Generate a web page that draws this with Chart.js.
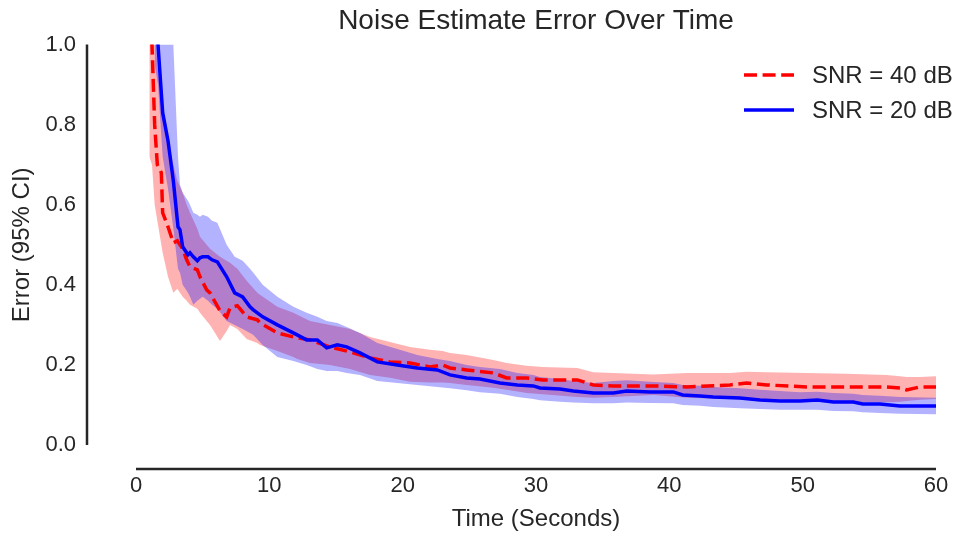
<!DOCTYPE html>
<html>
<head>
<meta charset="utf-8">
<script src="https://cdn.jsdelivr.net/npm/chart.js@4.4.1/dist/chart.umd.min.js"></script>
<style>
  html, body { margin: 0; padding: 0; background: #fff; }
  #wrap { width: 953px; height: 536px; }
</style>
</head>
<body>
<div id="wrap"><canvas id="noiseChart" width="953" height="536"></canvas></div>
<script>
// SNR = 40 dB (red, dashed)
var redTime = [1.0, 1.2, 1.4, 1.6, 1.9, 2.0, 2.4, 2.8, 3.1, 3.5, 3.8, 4.05, 4.6, 4.8, 5.3, 5.55, 6.3, 6.8, 7.05, 7.6,
    8.3, 9.1, 9.3, 10.6, 11.8, 12.1, 13.05, 14.55, 16.05, 17.55, 19.05, 20.55, 22.05, 23.0, 23.55, 24.8, 26.8, 27.8, 29.3, 30.5,
    33.1, 34.3, 35.8, 38.8, 41.3, 44.55, 45.8, 47.3, 50.3, 53.3, 56.3, 57.3, 57.8, 58.8, 60];
var redMean = [1.1, 1.0, 0.80, 0.70, 0.68, 0.58, 0.545, 0.505, 0.51, 0.49, 0.4625, 0.445, 0.4375, 0.42, 0.3875, 0.38, 0.335, 0.32, 0.3425, 0.348,
    0.32, 0.3125, 0.305, 0.28, 0.27, 0.268, 0.2625, 0.245, 0.2325, 0.2175, 0.2075, 0.205, 0.195, 0.20, 0.1925, 0.1875, 0.18, 0.1675, 0.1675, 0.1625,
    0.1625, 0.15, 0.1475, 0.1475, 0.145, 0.15, 0.155, 0.15, 0.145, 0.145, 0.145, 0.1425, 0.1375, 0.145, 0.145];
var redLow = [0.72, 0.70, 0.60, 0.56, 0.50, 0.48, 0.42, 0.38, 0.39, 0.37, 0.36, 0.35, 0.34, 0.33, 0.31, 0.30, 0.26, 0.285, 0.30, 0.29,
    0.265, 0.255, 0.25, 0.235, 0.22, 0.215, 0.205, 0.20, 0.19, 0.175, 0.168, 0.158, 0.156, 0.156, 0.155, 0.15, 0.143, 0.138, 0.13, 0.127,
    0.12, 0.118, 0.12, 0.125, 0.118, 0.115, 0.113, 0.112, 0.108, 0.107, 0.107, 0.108, 0.11, 0.113, 0.115];
var redHigh = [1.25, 1.2, 1.05, 0.95, 0.85, 0.82, 0.76, 0.70, 0.66, 0.63, 0.60, 0.58, 0.54, 0.52, 0.50, 0.49, 0.47, 0.46, 0.455, 0.44,
    0.41, 0.38, 0.375, 0.345, 0.33, 0.325, 0.31, 0.30, 0.29, 0.27, 0.2575, 0.245, 0.238, 0.235, 0.23, 0.225, 0.212, 0.205, 0.198, 0.195,
    0.192, 0.182, 0.18, 0.176, 0.18, 0.18, 0.183, 0.182, 0.18, 0.178, 0.175, 0.172, 0.17, 0.17, 0.172];

// SNR = 20 dB (blue, solid)
var blueTime = [1.4, 1.65, 2.0, 2.4, 2.8, 3.15, 3.3, 3.5, 3.9, 4.05, 4.3, 4.6, 4.8, 5.0, 5.4, 5.7, 6.1, 6.8, 7.4, 8.0,
    8.55, 8.8, 9.5, 10.6, 11.8, 12.8, 13.6, 14.3, 15.1, 15.8, 16.8, 18.1, 19.6, 21.1, 22.6, 23.55, 24.8, 25.8, 27.3, 28.6,
    29.8, 30.3, 31.8, 32.8, 34.3, 35.8, 36.8, 38.55, 40.3, 41.0, 42.3, 43.3, 45.3, 46.8, 48.3, 49.8, 51.1, 52.3, 53.8, 54.5,
    55.8, 57.3, 60];
var blueMean = [1.15, 1.0, 0.83, 0.76, 0.66, 0.545, 0.5375, 0.495, 0.475, 0.48, 0.47, 0.46, 0.4675, 0.47, 0.47, 0.4625, 0.4575, 0.42, 0.38, 0.37,
    0.345, 0.3375, 0.32, 0.30, 0.28, 0.2625, 0.2625, 0.2425, 0.25, 0.245, 0.23, 0.2075, 0.20, 0.1925, 0.1875, 0.175, 0.1675, 0.165, 0.155, 0.15,
    0.1475, 0.1425, 0.14, 0.135, 0.13, 0.13, 0.135, 0.1325, 0.1325, 0.125, 0.1225, 0.12, 0.1175, 0.1125, 0.11, 0.11, 0.1125, 0.1075, 0.1075, 0.1025,
    0.1025, 0.0975, 0.0975];
var blueLow = [0.95, 0.90, 0.72, 0.64, 0.54, 0.44, 0.43, 0.40, 0.38, 0.37, 0.35, 0.36, 0.365, 0.37, 0.36, 0.35, 0.34, 0.31, 0.30, 0.29,
    0.28, 0.275, 0.25, 0.22, 0.21, 0.20, 0.19, 0.185, 0.185, 0.18, 0.175, 0.16, 0.155, 0.15, 0.145, 0.142, 0.137, 0.132, 0.128, 0.12,
    0.115, 0.112, 0.108, 0.106, 0.104, 0.104, 0.106, 0.105, 0.104, 0.10, 0.098, 0.095, 0.092, 0.09, 0.088, 0.088, 0.088, 0.085, 0.084, 0.082,
    0.08, 0.078, 0.077];
var blueHigh = [1.3, 1.25, 1.15, 1.08, 1.0, 0.72, 0.65, 0.63, 0.61, 0.60, 0.58, 0.575, 0.57, 0.575, 0.57, 0.56, 0.555, 0.50, 0.47, 0.46,
    0.44, 0.43, 0.40, 0.37, 0.345, 0.33, 0.32, 0.31, 0.305, 0.295, 0.28, 0.255, 0.24, 0.225, 0.215, 0.21, 0.20, 0.195, 0.19, 0.18,
    0.175, 0.17, 0.165, 0.16, 0.155, 0.16, 0.162, 0.158, 0.155, 0.15, 0.148, 0.145, 0.142, 0.138, 0.135, 0.132, 0.133, 0.13, 0.128, 0.125,
    0.123, 0.12, 0.118];

var seriesLabels = ["SNR = 40 dB", "SNR = 20 dB"];
var xTicks = [0, 10, 20, 30, 40, 50, 60];
var yTicks = [0.0, 0.2, 0.4, 0.6, 0.8, 1.0];

var FONT = "'Liberation Sans', Arial, sans-serif";
var TEXT = "#262626";
var DASH = [13, 5.6];

function pts(xs, ys) {
    return xs.map(function (x, i) { return { x: x, y: ys[i] }; });
}

// seaborn-ish offset spines + legend drawn on top
var decorPlugin = {
    id: "decor",
    afterDraw: function (chart) {
        var ctx = chart.ctx;
        var xs = chart.scales.x, ys = chart.scales.y;
        ctx.save();
        ctx.strokeStyle = TEXT;
        ctx.lineWidth = 2.5;
        ctx.setLineDash([]);
        ctx.beginPath();
        ctx.moveTo(87, ys.getPixelForValue(1.0));
        ctx.lineTo(87, ys.getPixelForValue(0.0));
        ctx.moveTo(xs.getPixelForValue(0), 469);
        ctx.lineTo(xs.getPixelForValue(60), 469);
        ctx.stroke();

        // legend
        var items = [
            { label: seriesLabels[0], color: "#ff0000", dash: DASH, y: 75 },
            { label: seriesLabels[1], color: "#0000ff", dash: [], y: 110 }
        ];
        ctx.font = "24px " + FONT;
        ctx.textBaseline = "middle";
        ctx.textAlign = "left";
        items.forEach(function (it) {
            ctx.strokeStyle = it.color;
            ctx.lineWidth = 3.5;
            ctx.setLineDash(it.dash);
            ctx.beginPath();
            ctx.moveTo(744, it.y);
            ctx.lineTo(794, it.y);
            ctx.stroke();
            ctx.fillStyle = TEXT;
            ctx.fillText(it.label, 812, it.y + 1);
        });
        ctx.restore();
    }
};

new Chart(document.getElementById("noiseChart").getContext("2d"), {
    type: "line",
    data: {
        datasets: [
            {
                label: "red low",
                data: pts(redTime, redLow),
                borderWidth: 0,
                pointRadius: 0,
                fill: false,
                order: 5
            },
            {
                label: "red high",
                data: pts(redTime, redHigh),
                borderWidth: 0,
                pointRadius: 0,
                fill: "-1",
                backgroundColor: "rgba(255, 0, 0, 0.3)",
                order: 4
            },
            {
                label: "blue low",
                data: pts(blueTime, blueLow),
                borderWidth: 0,
                pointRadius: 0,
                fill: false,
                order: 3
            },
            {
                label: "blue high",
                data: pts(blueTime, blueHigh),
                borderWidth: 0,
                pointRadius: 0,
                fill: "-1",
                backgroundColor: "rgba(0, 0, 255, 0.3)",
                order: 2
            },
            {
                label: seriesLabels[0],
                data: pts(redTime, redMean),
                borderColor: "#ff0000",
                borderWidth: 3.5,
                borderDash: DASH,
                pointRadius: 0,
                fill: false,
                order: 1
            },
            {
                label: seriesLabels[1],
                data: pts(blueTime, blueMean),
                borderColor: "#0000ff",
                borderWidth: 3.5,
                pointRadius: 0,
                fill: false,
                order: 0
            }
        ]
    },
    options: {
        responsive: false,
        animation: false,
        layout: { padding: { left: 0, right: 17, top: 0, bottom: 0 } },
        plugins: {
            legend: { display: false },
            tooltip: { enabled: false },
            title: {
                display: true,
                fullSize: false,
                text: "Noise Estimate Error Over Time",
                color: TEXT,
                font: { family: FONT, size: 28, weight: "normal" },
                padding: { top: 4, bottom: 7 }
            }
        },
        scales: {
            x: {
                type: "linear",
                min: 0,
                max: 60,
                grid: { display: false, drawTicks: false },
                border: { display: false },
                afterBuildTicks: function (axis) {
                    axis.ticks = xTicks.map(function (v) { return { value: v }; });
                },
                afterFit: function (axis) {
                    axis.height = 91;
                    axis.paddingLeft = 0;
                    axis.paddingRight = 0;
                },
                ticks: {
                    color: TEXT,
                    padding: 28,
                    maxRotation: 0,
                    font: { family: FONT, size: 22 }
                },
                title: {
                    display: true,
                    text: "Time (Seconds)",
                    color: TEXT,
                    font: { family: FONT, size: 24 },
                    padding: { top: 0, bottom: 2 }
                }
            },
            y: {
                min: 0,
                max: 1,
                grid: { display: false, drawTicks: false },
                border: { display: false },
                afterBuildTicks: function (axis) {
                    axis.ticks = yTicks.map(function (v) { return { value: v }; });
                },
                afterFit: function (axis) {
                    axis.width = 136;
                    axis.paddingTop = 0;
                    axis.paddingBottom = 0;
                },
                ticks: {
                    color: TEXT,
                    padding: 60,
                    font: { family: FONT, size: 22 },
                    callback: function (v) { return Number(v).toFixed(1); }
                },
                title: {
                    display: true,
                    text: "Error (95% CI)",
                    color: TEXT,
                    font: { family: FONT, size: 24 },
                    padding: { top: 8, bottom: 0 }
                }
            }
        }
    },
    plugins: [decorPlugin]
});
</script>
</body>
</html>
